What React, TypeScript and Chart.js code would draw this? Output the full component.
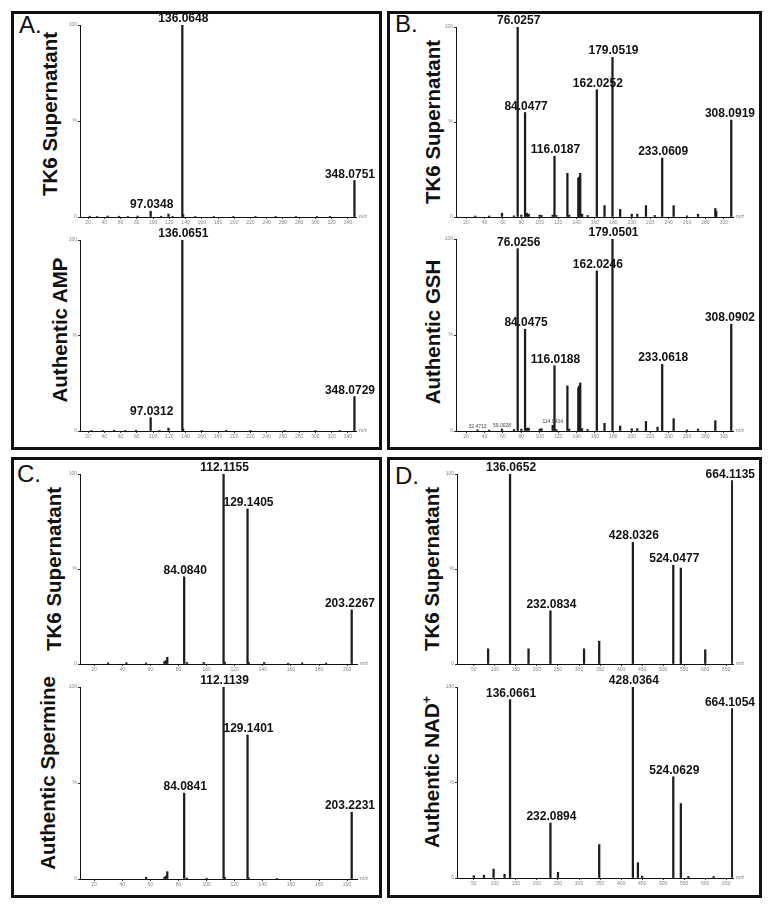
import React, { useEffect, useRef } from "react";
import { Chart, registerables } from "chart.js";
Chart.register(...registerables);

// ===================== DATA =====================
// Panel A – AMP
const aTopMz = [22, 31, 44, 58, 69, 81, 97.0348, 110, 119.0, 124, 136.0648, 137.07, 152, 175, 199, 226, 251, 276, 302, 318, 348.0751];
const aTopInt = [0.4, 0.3, 0.5, 0.4, 0.3, 0.5, 3.0, 0.4, 1.5, 0.3, 100, 1.2, 0.3, 0.3, 0.2, 0.3, 0.2, 0.3, 0.3, 0.2, 19];
const aTopLabels = ["97.0348", "136.0648", "348.0751"];
const aBotMz = [24, 38, 52, 66, 79, 97.0312, 108, 119.0, 136.0651, 137.07, 160, 190, 220, 262, 300, 330, 348.0729];
const aBotInt = [0.3, 0.3, 0.4, 0.3, 0.4, 7, 0.3, 1.5, 100, 1.0, 0.3, 0.2, 0.3, 0.2, 0.3, 0.2, 18];
const aBotLabels = ["97.0312", "136.0651", "348.0729"];
const aTicks = [20, 40, 60, 80, 100, 120, 140, 160, 180, 200, 220, 240, 260, 280, 300, 320, 340];

// Panel B – GSH
const bTopMz = [30, 45, 59, 72, 76.0257, 80, 84.0477, 86, 88, 100, 102, 114, 116.0187, 118, 130.0499, 132, 141.9, 142.9, 144.0, 146, 152, 162.0252, 170.4, 179.0519, 187.4, 200, 206, 215.4, 225, 233.0609, 245.5, 260, 272, 290.8, 291.8, 308.0919];
const bTopInt = [0.5, 0.5, 2, 0.6, 100, 1, 55, 2, 1.5, 1, 0.8, 1, 32, 0.8, 23, 1, 20.5, 21, 23, 1.5, 0.8, 67, 6, 84, 4, 1.5, 1.5, 6, 0.8, 31, 6, 0.6, 1.5, 4.5, 3, 51];
const bTopLabels = ["76.0257", "84.0477", "116.0187", "162.0252", "179.0519", "233.0609", "308.0919"];
const bBotMz = [32.4712, 45, 59.0028, 72, 76.0256, 80, 84.0475, 86, 88, 100, 102, 114.0434, 116.0188, 118, 130.0499, 132, 141.9, 142.9, 144.0, 146, 152, 162.0246, 170.4, 179.0501, 187.4, 200, 206, 215.4, 228, 233.0618, 245.5, 260, 272, 290.8, 308.0902];
const bBotInt = [0.6, 0.5, 1, 0.8, 95, 1, 53, 1.5, 1.5, 1, 1.2, 3, 34, 0.8, 23.5, 1, 22.5, 23.5, 25, 1.2, 0.8, 83.4, 4, 100, 2.6, 1.2, 1.2, 5, 2, 34.7, 6.4, 0.6, 1, 5.4, 55.6];
const bBotLabels = ["76.0256", "84.0475", "116.0188", "162.0246", "179.0501", "233.0618", "308.0902"];
const bBotSmallLabels = ["32.4712", "59.0028", "114.0434"];
const bTicks = [20, 40, 60, 80, 100, 120, 140, 160, 180, 200, 220, 240, 260, 280, 300];

// Panel C – Spermine
const cTopMz = [30, 43, 57, 70, 71, 72.08, 84.084, 86, 98, 112.1155, 113, 129.1405, 130, 141, 158, 168, 185, 203.2267];
const cTopInt = [0.6, 0.7, 0.5, 1.2, 1.8, 3.5, 45.9, 0.8, 0.8, 100, 1, 81.6, 0.8, 0.8, 0.4, 0.6, 0.5, 28.5];
const cTopLabels = ["84.0840", "112.1155", "129.1405", "203.2267"];
const cBotMz = [57, 70, 71, 72.08, 84.0841, 86, 100, 112.1139, 113, 129.1401, 130, 150, 203.2231];
const cBotInt = [0.9, 0.8, 1.5, 3.8, 44.7, 0.5, 0.4, 100, 0.8, 75, 0.6, 0.3, 34.8];
const cBotLabels = ["84.0841", "112.1139", "129.1401", "203.2231"];
const cTicks = [20, 40, 60, 80, 100, 120, 140, 160, 180, 200];

// Panel D – NAD+
const dTopMz = [84, 136.0652, 180, 232.0834, 312, 348, 428.0326, 524.0477, 542, 600, 664.1135];
const dTopInt = [8, 100, 8, 28, 8, 12, 64, 52, 50.5, 7.5, 96.5];
const dTopLabels = ["136.0652", "232.0834", "428.0326", "524.0477", "664.1135"];
const dBotMz = [50, 74, 97, 123, 136.0661, 232.0894, 250, 348, 428.0364, 440, 450, 524.0629, 542, 560, 620, 664.1054];
const dBotInt = [1.2, 1.5, 4.7, 2, 93.4, 28.8, 3, 17.5, 100, 8, 1, 53, 39, 0.8, 0.8, 88.7];
const dBotLabels = ["136.0661", "232.0894", "428.0364", "524.0629", "664.1054"];
const dTicks = [50, 100, 150, 200, 250, 300, 350, 400, 450, 500, 550, 600, 650];

const yTickValues = [0, 50, 100];
const yTickText = ["0", "%", "100"];

// ===================== LAYOUT =====================
const Y_W = 14;
const X_H = 10;

type Geo = { xL: number; xR: number; yT: number; yB: number; cl: number; cr: number; ct: number; cb: number };

const panels = [
  { key: "A", l: 11, t: 11, w: 371, h: 439, letterX: 19, letterY: 13 },
  { key: "B", l: 387, t: 11, w: 375, h: 439, letterX: 395, letterY: 12 },
  { key: "C", l: 11, t: 457, w: 371, h: 441, letterX: 17, letterY: 462 },
  { key: "D", l: 387, t: 457, w: 375, h: 441, letterX: 395, letterY: 464 },
];

const makeLabelPlugin = (mz: number[], labels: string[], small: string[]) => ({
  id: "peakLabels",
  afterDatasetsDraw(chart: any) {
    const { ctx, chartArea, width } = chart;
    const meta = chart.getDatasetMeta(0);
    ctx.save();
    const draw = (txt: string, font: string, gap: number, dx: number, color: string) => {
      const v = parseFloat(txt);
      const i = mz.findIndex((m) => Math.abs(m - v) < 1e-6);
      if (i < 0) return;
      const el = meta.data[i];
      ctx.font = font;
      ctx.fillStyle = color;
      ctx.textAlign = "center";
      ctx.textBaseline = "alphabetic";
      const tw = ctx.measureText(txt).width;
      let cx = el.x + dx;
      const maxRight = width - 4;
      if (cx + tw / 2 > maxRight) cx = maxRight - tw / 2;
      ctx.fillText(txt, cx, el.y - gap);
    };
    labels.forEach((t) => draw(t, "bold 12px Arial, 'Liberation Sans', sans-serif", 3, 1, "#111"));
    small.forEach((t) => draw(t, "5px Arial, 'Liberation Sans', sans-serif", 2, 0, "#444"));
    ctx.font = "5px Arial, 'Liberation Sans', sans-serif";
    ctx.fillStyle = "#777";
    ctx.textAlign = "left";
    ctx.textBaseline = "middle";
    ctx.fillText("m/z", chartArea.right + 3, chartArea.bottom);
    ctx.restore();
  },
});

function Spectrum(props: {
  mz: number[];
  intensity: number[];
  labels: string[];
  small?: string[];
  ticks: number[];
  min: number;
  max: number;
  geo: Geo;
}) {
  const { mz, intensity, labels, small = [], ticks, min, max, geo } = props;
  const ref = useRef<HTMLCanvasElement>(null);
  const w = geo.cr - geo.cl;
  const h = geo.cb - geo.ct;
  useEffect(() => {
    if (!ref.current) return;
    const tickFont = { size: 5, family: "Arial, 'Liberation Sans', sans-serif" };
    const chart = new Chart(ref.current, {
      type: "bar",
      data: {
        datasets: [
          {
            data: mz.map((x, i) => ({ x, y: intensity[i] })),
            backgroundColor: "#1c1c1c",
            borderWidth: 0,
            barThickness: 1.6,
          },
        ],
      },
      options: {
        responsive: false,
        animation: false,
        events: [],
        layout: {
          padding: {
            left: geo.xL - geo.cl - Y_W,
            right: geo.cr - geo.xR,
            top: geo.yT - geo.ct,
            bottom: geo.cb - geo.yB - X_H,
          },
        },
        plugins: { legend: { display: false }, tooltip: { enabled: false } },
        scales: {
          x: {
            type: "linear",
            min,
            max,
            offset: false,
            afterBuildTicks: (s: any) => {
              s.ticks = ticks.map((v) => ({ value: v }));
            },
            afterFit: (s: any) => {
              s.height = X_H;
            },
            ticks: {
              autoSkip: false,
              maxRotation: 0,
              minRotation: 0,
              padding: 1,
              color: "#888",
              font: tickFont,
              callback: (v: any) => String(v),
            },
            grid: { offset: false, drawOnChartArea: false, drawTicks: true, tickLength: 2, color: "#333" },
            border: { display: true, color: "#111", width: 1 },
          },
          y: {
            type: "linear",
            min: 0,
            max: 100,
            afterBuildTicks: (s: any) => {
              s.ticks = yTickValues.map((v) => ({ value: v }));
            },
            afterFit: (s: any) => {
              s.width = Y_W;
            },
            ticks: {
              padding: 1,
              color: "#888",
              font: tickFont,
              callback: (v: any) => {
                const k = yTickValues.indexOf(v);
                return k >= 0 ? yTickText[k] : "";
              },
            },
            grid: { drawOnChartArea: false, tickLength: 2, color: "#333" },
            border: { display: true, color: "#111", width: 1 },
          },
        },
      } as any,
      plugins: [makeLabelPlugin(mz, labels, small)],
    });
    return () => chart.destroy();
  }, []);
  return (
    <canvas
      ref={ref}
      width={w}
      height={h}
      style={{ position: "absolute", left: geo.cl, top: geo.ct, width: w, height: h }}
    />
  );
}

function VTitle(props: { x: number; y: number; children: React.ReactNode }) {
  return (
    <div
      style={{
        position: "absolute",
        left: props.x,
        top: props.y,
        transform: "translate(-50%, -50%) rotate(-90deg)",
        whiteSpace: "nowrap",
        fontFamily: "Arial, 'Liberation Sans', sans-serif",
        fontWeight: "bold",
        fontSize: 20.5,
        lineHeight: 1,
        color: "#111",
      }}
    >
      {props.children}
    </div>
  );
}

export default function App() {
  const pA = panels[0], pB = panels[1], pC = panels[2], pD = panels[3];
  const inner = (p: any) => ({ cl: p.l + 3, cr: p.l + p.w - 3 });
  return (
    <div
      style={{
        position: "absolute",
        left: 0,
        top: 0,
        width: 774,
        height: 911,
        background: "#fff",
        overflow: "hidden",
      }}
    >
      {panels.map((p) => (
        <div
          key={p.key}
          style={{
            position: "absolute",
            left: p.l,
            top: p.t,
            width: p.w,
            height: p.h,
            border: "3px solid #111",
            boxSizing: "border-box",
          }}
        />
      ))}
      {panels.map((p) => (
        <div
          key={"L" + p.key}
          style={{
            position: "absolute",
            left: p.letterX,
            top: p.letterY,
            fontFamily: "Arial, 'Liberation Sans', sans-serif",
            fontSize: 24,
            lineHeight: 1,
            color: "#111",
          }}
        >
          {p.key + "."}
        </div>
      ))}

      <VTitle x={50} y={113.5}>TK6 Supernatant</VTitle>
      <VTitle x={60} y={330}>Authentic AMP</VTitle>
      <VTitle x={432.5} y={121.5}>TK6 Supernatant</VTitle>
      <VTitle x={432.5} y={331.5}>Authentic GSH</VTitle>
      <VTitle x={53.5} y={568.5}>TK6 Supernatant</VTitle>
      <VTitle x={47.5} y={772.5}>Authentic Spermine</VTitle>
      <VTitle x={431.5} y={568.5}>TK6 Supernatant</VTitle>
      <VTitle x={432} y={771.5}>
        Authentic NAD<sup style={{ fontSize: "0.6em", lineHeight: 0 }}>+</sup>
      </VTitle>

      <Spectrum mz={aTopMz} intensity={aTopInt} labels={aTopLabels} ticks={aTicks} min={10} max={350}
        geo={{ xL: 80, xR: 356, yT: 25, yB: 217, ...inner(pA), ct: pA.t, cb: 229 }} />
      <Spectrum mz={aBotMz} intensity={aBotInt} labels={aBotLabels} ticks={aTicks} min={10} max={350}
        geo={{ xL: 80, xR: 356, yT: 240, yB: 431, ...inner(pA), ct: 220, cb: pA.t + pA.h }} />

      <Spectrum mz={bTopMz} intensity={bTopInt} labels={bTopLabels} ticks={bTicks} min={9} max={310}
        geo={{ xL: 456, xR: 733, yT: 27, yB: 217, ...inner(pB), ct: pB.t, cb: 229 }} />
      <Spectrum mz={bBotMz} intensity={bBotInt} labels={bBotLabels} small={bBotSmallLabels} ticks={bTicks} min={9} max={310}
        geo={{ xL: 456, xR: 733, yT: 239, yB: 431, ...inner(pB), ct: 219, cb: pB.t + pB.h }} />

      <Spectrum mz={cTopMz} intensity={cTopInt} labels={cTopLabels} ticks={cTicks} min={10} max={207}
        geo={{ xL: 80, xR: 357, yT: 474, yB: 664, ...inner(pC), ct: pC.t, cb: 676 }} />
      <Spectrum mz={cBotMz} intensity={cBotInt} labels={cBotLabels} ticks={cTicks} min={10} max={207}
        geo={{ xL: 80, xR: 357, yT: 687, yB: 879, ...inner(pC), ct: 667, cb: pC.t + pC.h }} />

      <Spectrum mz={dTopMz} intensity={dTopInt} labels={dTopLabels} ticks={dTicks} min={10} max={666}
        geo={{ xL: 457, xR: 733, yT: 474, yB: 664, ...inner(pD), ct: pD.t, cb: 676 }} />
      <Spectrum mz={dBotMz} intensity={dBotInt} labels={dBotLabels} ticks={dTicks} min={10} max={666}
        geo={{ xL: 457, xR: 733, yT: 687, yB: 878, ...inner(pD), ct: 667, cb: pD.t + pD.h }} />
    </div>
  );
}
